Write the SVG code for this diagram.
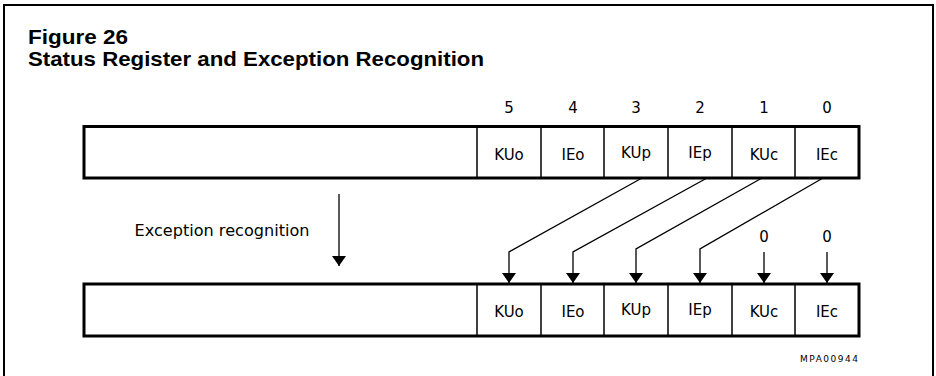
<svg xmlns="http://www.w3.org/2000/svg" width="936" height="376" viewBox="0 0 936 376">
<defs>
<marker id="ah" viewBox="0 0 10 14" refX="10" refY="7" markerWidth="10" markerHeight="14" markerUnits="userSpaceOnUse" orient="auto">
<path d="M0,0 L10,7 L0,14 Z" fill="#000"/>
</marker>
<style>
.title{font-family:"Liberation Sans",Arial,sans-serif;font-weight:bold;font-size:21px;fill:#000}
.lbl{font-family:"DejaVu Sans","Liberation Sans",sans-serif;font-size:15px;fill:#000;text-anchor:middle}
.reg{fill:#fff;stroke:#000;stroke-width:3}
.div{stroke:#000;stroke-width:1.5}
.con{fill:none;stroke:#000;stroke-width:1.3}
</style>
</defs>
<rect width="936" height="376" fill="#fff"/>
<path d="M4,380 L4,5 L933,5 L933,380" fill="none" stroke="#000" stroke-width="2"/>
<text class="title" x="28" y="44" textLength="100" lengthAdjust="spacingAndGlyphs">Figure 26</text>
<text class="title" x="28" y="66" textLength="456" lengthAdjust="spacingAndGlyphs">Status Register and Exception Recognition</text>

<g id="bitnumbers">
<text class="lbl" x="509" y="113">5</text>
<text class="lbl" x="573" y="113">4</text>
<text class="lbl" x="636" y="113">3</text>
<text class="lbl" x="700" y="113">2</text>
<text class="lbl" x="764" y="113">1</text>
<text class="lbl" x="827" y="113">0</text>
</g>

<g id="upper-register">
<rect class="reg" x="84" y="126.5" width="775" height="51.5"/>
<line class="div" x1="477" y1="126.5" x2="477" y2="178"/>
<line class="div" x1="541" y1="126.5" x2="541" y2="178"/>
<line class="div" x1="604" y1="126.5" x2="604" y2="178"/>
<line class="div" x1="668" y1="126.5" x2="668" y2="178"/>
<line class="div" x1="732" y1="126.5" x2="732" y2="178"/>
<line class="div" x1="795" y1="126.5" x2="795" y2="178"/>
<text class="lbl" x="509" y="160">KUo</text>
<text class="lbl" x="573" y="160">IEo</text>
<text class="lbl" x="636" y="158">KUp</text>
<text class="lbl" x="700" y="158">IEp</text>
<text class="lbl" x="764" y="160">KUc</text>
<text class="lbl" x="827" y="160">IEc</text>
</g>

<g id="exception-label">
<text class="lbl" x="222" y="236" font-size="15" textLength="175" lengthAdjust="spacingAndGlyphs">Exception recognition</text>
</g>

<g id="lower-register">
<rect class="reg" x="84" y="284" width="775" height="52"/>
<line class="div" x1="477" y1="284" x2="477" y2="336"/>
<line class="div" x1="541" y1="284" x2="541" y2="336"/>
<line class="div" x1="604" y1="284" x2="604" y2="336"/>
<line class="div" x1="668" y1="284" x2="668" y2="336"/>
<line class="div" x1="732" y1="284" x2="732" y2="336"/>
<line class="div" x1="795" y1="284" x2="795" y2="336"/>
<text class="lbl" x="509" y="317">KUo</text>
<text class="lbl" x="573" y="317">IEo</text>
<text class="lbl" x="636" y="315">KUp</text>
<text class="lbl" x="700" y="315">IEp</text>
<text class="lbl" x="764" y="317">KUc</text>
<text class="lbl" x="827" y="317">IEc</text>
</g>

<g id="zeros">
<text class="lbl" x="764" y="242">0</text>
<text class="lbl" x="827" y="242">0</text>
</g>

<g id="connectors">
<line class="con" x1="339" y1="194" x2="339" y2="266" marker-end="url(#ah)"/>
<polyline class="con" points="642,178 509,252 509,283" marker-end="url(#ah)"/>
<polyline class="con" points="707,178 573,252 573,283" marker-end="url(#ah)"/>
<polyline class="con" points="762,178 636,249 636,283" marker-end="url(#ah)"/>
<polyline class="con" points="823,178 700,249 700,283" marker-end="url(#ah)"/>
<line class="con" x1="764" y1="252" x2="764" y2="283" marker-end="url(#ah)"/>
<line class="con" x1="827" y1="252" x2="827" y2="283" marker-end="url(#ah)"/>
</g>

<text x="858" y="362" font-family="DejaVu Sans,sans-serif" font-size="9" text-anchor="end" textLength="58">MPA00944</text>
</svg>
